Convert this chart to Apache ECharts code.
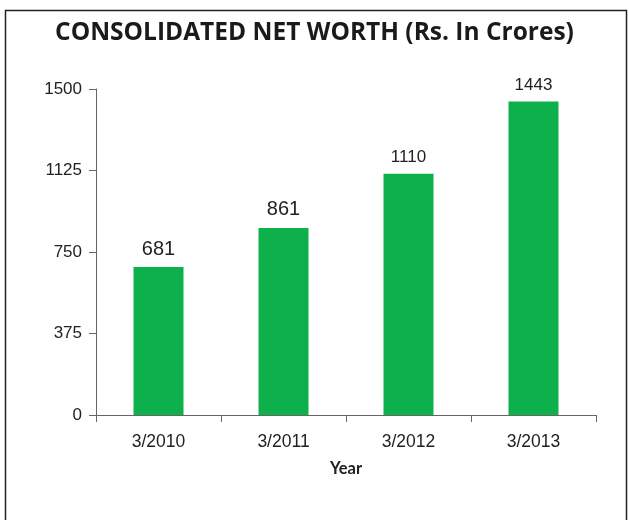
<!DOCTYPE html>
<html>
<head>
<meta charset="utf-8">
<script src="https://cdn.jsdelivr.net/npm/echarts@6/dist/echarts.min.js"></script>
<style>
  html, body { margin: 0; padding: 0; background: #fff; }
  #main { width: 629px; height: 520px; }
</style>
</head>
<body>
<div id="main"></div>
<script>
  const categories = ['3/2010', '3/2011', '3/2012', '3/2013'];
  const netWorth = [681, 861, 1110, 1443];
  const labelSizes = [20, 20, 17, 17];
  const yTicks = [0, 375, 750, 1125, 1500];

  var myChart = echarts.init(document.getElementById('main'));

  var option = {
    animation: false,
    backgroundColor: '#fff',
    title: {
      text: 'CONSOLIDATED NET WORTH (Rs. In Crores)',
      left: 'center',
      top: 16,
      textStyle: {
        fontFamily: 'Open Sans',
        fontWeight: 'bold',
        fontSize: 24.5,
        color: '#1a1a1a'
      }
    },
    graphic: [
      {
        type: 'rect',
        shape: { x: 5.5, y: 10.5, width: 621, height: 520 },
        style: { fill: 'none', stroke: '#222', lineWidth: 1.5 },
        silent: true
      }
    ],
    grid: {
      left: 96,
      right: 33,
      top: 89,
      bottom: 105
    },
    xAxis: {
      type: 'category',
      data: categories,
      name: 'Year',
      nameLocation: 'middle',
      nameGap: 45,
      nameTextStyle: {
        fontFamily: 'Lato',
        fontWeight: 'bold',
        fontSize: 16.5,
        color: '#222'
      },
      axisLine: { lineStyle: { color: '#666', width: 1 } },
      axisTick: { show: true, length: 7, lineStyle: { color: '#666' } },
      axisLabel: {
        fontFamily: 'Liberation Sans',
        fontSize: 17.5,
        color: '#222',
        margin: 18
      }
    },
    yAxis: {
      type: 'value',
      min: yTicks[0],
      max: yTicks[yTicks.length - 1],
      interval: yTicks[1] - yTicks[0],
      axisLine: { show: true, lineStyle: { color: '#666', width: 1 } },
      axisTick: { show: true, length: 7, lineStyle: { color: '#666' } },
      splitLine: { show: false },
      axisLabel: {
        fontFamily: 'Liberation Sans',
        fontSize: 17,
        color: '#222',
        margin: 14,
        formatter: function (v) { return String(v); }
      }
    },
    series: [
      {
        name: 'Net Worth',
        type: 'bar',
        barWidth: 50,
        data: netWorth.map(function (v, i) {
          return { value: v, label: { fontSize: labelSizes[i] } };
        }),
        itemStyle: { color: '#0db04b' },
        label: {
          show: true,
          position: 'top',
          distance: 8,
          fontFamily: 'Liberation Sans',
          color: '#222'
        }
      }
    ]
  };

  myChart.setOption(option);
</script>
</body>
</html>
